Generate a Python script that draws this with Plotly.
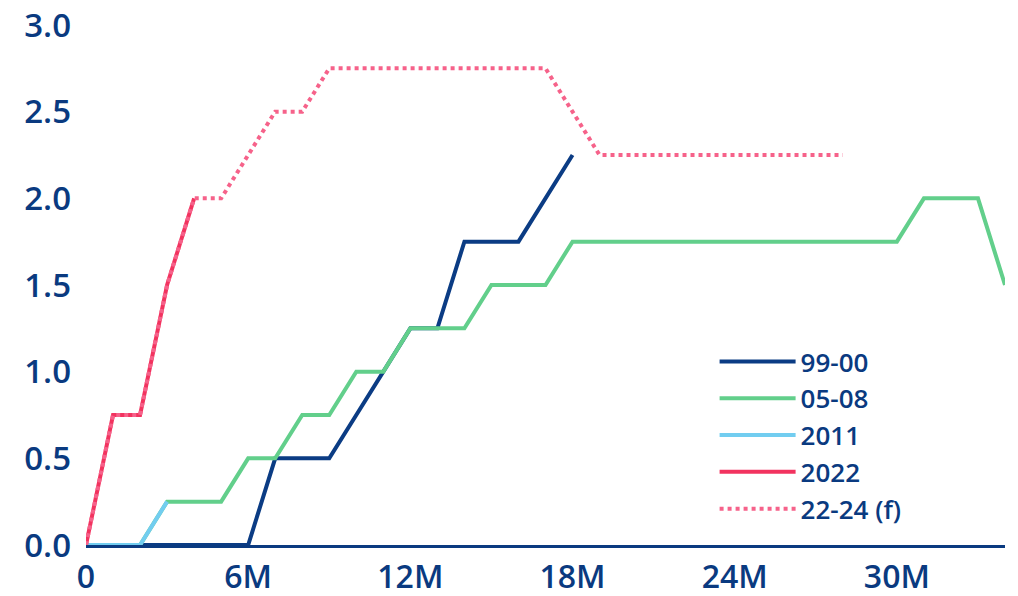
import plotly.graph_objects as go

# Data (months since first hike, cumulative hikes in pp)
x_9900 = [0, 6, 7, 9, 10, 11, 12, 13, 14, 16, 18]
y_9900 = [0, 0, 0.5, 0.5, 0.75, 1.0, 1.25, 1.25, 1.75, 1.75, 2.25]

x_0508 = [0, 2, 3, 5, 6, 7, 8, 9, 10, 11, 12, 14, 15, 17, 18, 30, 31, 33, 34]
y_0508 = [0, 0, 0.25, 0.25, 0.5, 0.5, 0.75, 0.75, 1.0, 1.0, 1.25, 1.25, 1.5, 1.5, 1.75, 1.75, 2.0, 2.0, 1.5]

x_2011 = [0, 2, 3]
y_2011 = [0, 0, 0.25]

x_2022 = [0, 1, 2, 3, 4]
y_2022 = [0, 0.75, 0.75, 1.5, 2.0]

x_2224 = [0, 1, 2, 3, 4, 5, 7, 8, 9, 17, 19, 28]
y_2224 = [0, 0.75, 0.75, 1.5, 2.0, 2.0, 2.5, 2.5, 2.75, 2.75, 2.25, 2.25]

x_tickvals = [0, 6, 12, 18, 24, 30]
x_ticktext = ["0", "6M", "12M", "18M", "24M", "30M"]
y_tickvals = [0, 0.5, 1.0, 1.5, 2.0, 2.5, 3.0]
y_ticktext = ["0.0", "0.5", "1.0", "1.5", "2.0", "2.5", "3.0"]

NAVY = "#0a3a80"
FONT = "Open Sans"

fig = go.Figure()
fig.add_trace(go.Scatter(x=x_9900, y=y_9900, mode="lines", name="99-00",
                         line=dict(color="#0b3c84", width=4)))
fig.add_trace(go.Scatter(x=x_0508, y=y_0508, mode="lines", name="05-08",
                         line=dict(color="#62cf8b", width=4)))
fig.add_trace(go.Scatter(x=x_2011, y=y_2011, mode="lines", name="2011",
                         line=dict(color="#72cdf0", width=4)))
fig.add_trace(go.Scatter(x=x_2022, y=y_2022, mode="lines", name="2022",
                         line=dict(color="#f2335f", width=4)))
fig.add_trace(go.Scatter(x=x_2224, y=y_2224, mode="lines", name="22-24 (f)",
                         line=dict(color="#f6628a", width=4, dash="dot")))

fig.update_layout(
    width=1018, height=596,
    margin=dict(l=86, r=13, t=25, b=51),
    paper_bgcolor="white", plot_bgcolor="white",
    font=dict(family=FONT, color=NAVY, weight=600),
    showlegend=True,
    legend=dict(x=0.684, y=0.398, xanchor="left", yanchor="top",
                font=dict(size=26, family=FONT, color=NAVY, weight=600),
                bgcolor="rgba(0,0,0,0)", tracegroupgap=0, itemwidth=76),
)
fig.update_xaxes(range=[0, 34], tickvals=x_tickvals, ticktext=x_ticktext,
                 showgrid=False, zeroline=False, showline=True,
                 linecolor=NAVY, linewidth=3, automargin=False,
                 ticklabeloverflow="allow",
                 ticks="", tickfont=dict(size=32, family=FONT, color=NAVY, weight=600),
                 ticklabelstandoff=2)
fig.update_yaxes(range=[0, 3.0], tickvals=y_tickvals, ticktext=y_ticktext,
                 showgrid=False, zeroline=False, showline=False, automargin=False,
                 ticklabeloverflow="allow",
                 ticks="", tickfont=dict(size=33, family=FONT, color=NAVY, weight=600),
                 ticklabelstandoff=14)

fig.write_html("out.html",
               config={"displayModeBar": False},
               post_script="document.body.style.margin='0';document.body.style.overflow='hidden';")
